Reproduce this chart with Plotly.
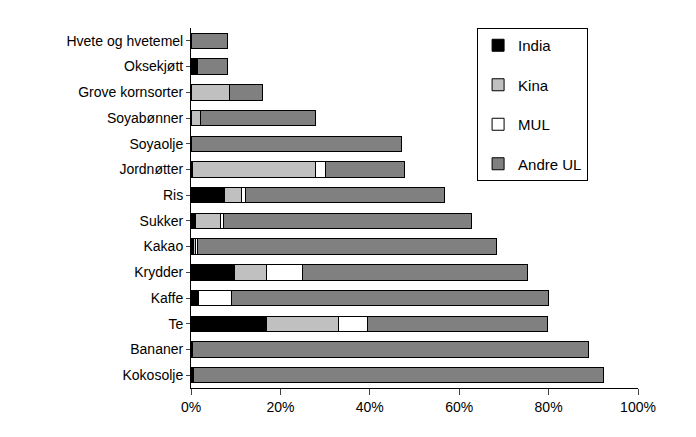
import plotly.graph_objects as go

categories = ["Hvete og hvetemel","Oksekjøtt","Grove kornsorter","Soyabønner","Soyaolje","Jordnøtter","Ris","Sukker","Kakao","Krydder","Kaffe","Te","Bananer","Kokosolje"]
india = [0, 1.5, 0, 0, 0, 0.3, 7.5, 1.1, 0.5, 9.7, 1.6, 16.8, 0.3, 0.6]
kina = [0, 0, 8.6, 2.2, 0, 27.5, 3.8, 5.4, 0.4, 7.1, 0, 16.1, 0, 0]
mul = [0, 0, 0, 0, 0, 2.4, 0.8, 0.7, 0.5, 8.2, 7.5, 6.6, 0, 0]
andre = [8.2, 6.7, 7.3, 25.6, 47.1, 17.5, 44.6, 55.5, 66.9, 50.2, 70.9, 40.2, 88.7, 91.6]
ticks = [0, 20, 40, 60, 80, 100]
tick_labels = ["0%", "20%", "40%", "60%", "80%", "100%"]

fig = go.Figure()
for name, vals, col in [("India", india, "#000000"), ("Kina", kina, "#c0c0c0"), ("MUL", mul, "#ffffff"), ("Andre UL", andre, "#808080")]:
    fig.add_trace(go.Bar(y=categories, x=vals, name=name, orientation="h", legendgroup=name,
                         marker=dict(color=col, line=dict(color="black", width=1))))

fig.update_layout(
    barmode="stack", bargap=0.4, width=696, height=437,
    paper_bgcolor="white", plot_bgcolor="white",
    margin=dict(l=183, r=66, t=20, b=57),
    font=dict(family="Liberation Sans, Arial", size=14, color="black"),
    legend=dict(traceorder="reversed+grouped", x=0.64, y=1.0, xanchor="left", yanchor="top",
                bordercolor="black", borderwidth=1, font=dict(size=15),
                itemwidth=30, tracegroupgap=17),
    xaxis=dict(range=[0, 100], tickvals=ticks, ticktext=tick_labels, showgrid=False,
               showline=True, linecolor="black", ticks="outside", ticklen=6, zeroline=False),
    yaxis=dict(autorange="reversed", showline=True, linecolor="black", ticks="outside", ticklen=4, showgrid=False),
)
fig.write_html("out.html")
